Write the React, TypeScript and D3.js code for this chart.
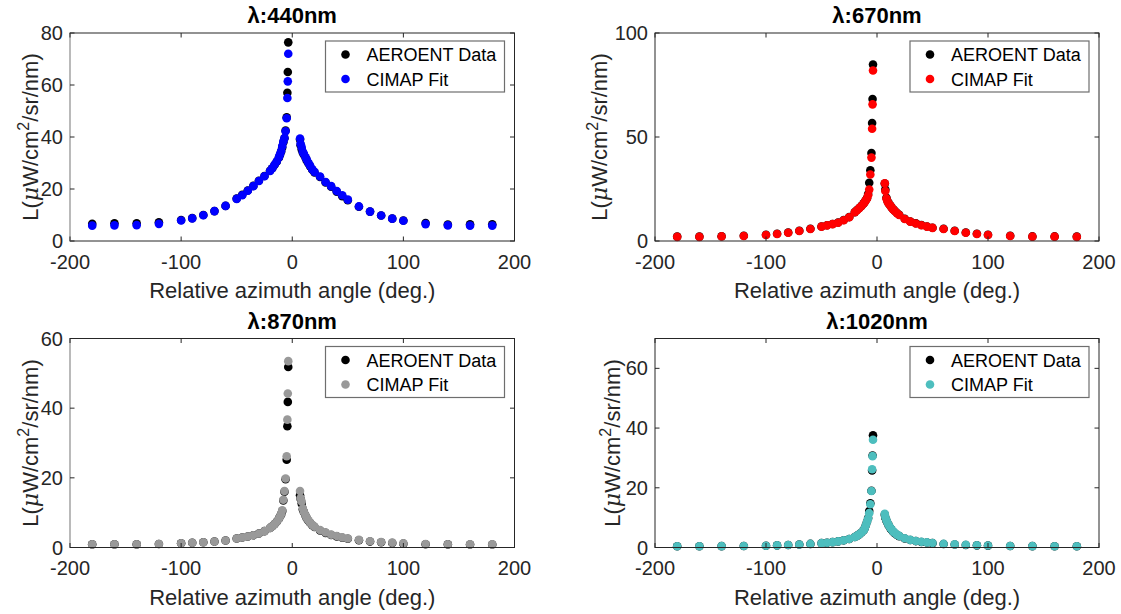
import React from 'react';
import * as d3 from 'd3';

// Relative azimuth angles (deg.) shared by all four wavelengths
const angles = [
  -180, -160, -140, -120, -100, -90, -80, -70, -60, -50,
  -45, -40, -35, -30, -25, -20, -18, -16, -14, -12,
  -11, -10, -9, -8, -7, -6, -5, -4.4, -4, -3.6,
  7, 7.5, 8.5, 9.5, 10.5, 12, 13, 14.5, 16, 18,
  20, 25, 30, 35, 40, 45, 50, 60, 70, 80,
  90, 100, 120, 140, 160, 180,
];

const xTicks = [-200, -100, 0, 100, 200];

// 440 nm
const aero440 = [
  6.6, 6.8, 6.8, 7.2, 8.1, 8.8, 10.0, 11.5, 13.5, 16.3,
  17.8, 19.4, 21.2, 23.2, 25.0, 27.0, 28.0, 29.2, 30.5, 32.0,
  33.2, 34.4, 36.0, 38.0, 39.5, 42.5, 47.6, 57.0, 65.0, 76.4,
  39.0, 36.8, 35.2, 34.0, 33.2, 32.0, 31.0, 29.9, 28.8, 27.4,
  26.4, 24.6, 22.5, 20.9, 19.0, 17.2, 15.7, 13.2, 11.3, 9.8,
  8.6, 7.9, 6.9, 6.3, 6.4, 6.4,
];
const fit440 = [
  5.9, 6.0, 6.1, 6.6, 7.9, 8.7, 9.9, 11.5, 13.5, 16.2,
  17.6, 19.3, 21.1, 23.1, 24.9, 26.9, 28.0, 29.3, 30.6, 32.2,
  33.4, 34.6, 36.5, 38.3, 39.6, 42.2, 47.2, 55.0, 61.4, 72.0,
  39.4, 37.4, 36.0, 34.3, 33.5, 32.2, 31.3, 30.1, 29.0, 27.6,
  26.6, 24.8, 22.7, 21.1, 19.2, 17.6, 15.9, 13.3, 11.3, 9.8,
  8.6, 7.8, 6.5, 6.0, 5.9, 5.9,
];

// 670 nm
const aero670 = [
  2.1, 2.1, 2.3, 2.5, 3.0, 3.5, 4.1, 4.9, 5.9, 7.0,
  7.6, 8.2, 8.9, 10.1, 11.5, 13.9, 14.9, 15.9, 16.9, 18.1,
  18.9, 19.7, 20.6, 22.6, 28.0, 34.0, 42.3, 56.7, 68.3, 84.8,
  27.6, 24.8, 20.8, 19.2, 18.1, 17.1, 16.3, 15.3, 14.5, 13.5,
  12.6, 10.7, 9.4, 8.5, 7.7, 7.0, 6.4, 5.9, 4.9, 4.1,
  3.5, 3.0, 2.5, 2.2, 2.2, 2.1,
];
const fit670 = [
  2.0, 2.0, 2.2, 2.4, 2.9, 3.4, 4.0, 4.8, 5.8, 6.9,
  7.5, 8.1, 8.8, 10.0, 11.4, 13.8, 14.8, 15.8, 16.8, 18.0,
  18.8, 19.6, 20.4, 22.0, 24.7, 32.0, 40.1, 54.0, 65.7, 82.0,
  27.8, 24.0, 20.4, 19.0, 18.0, 17.0, 16.2, 15.2, 14.4, 13.4,
  12.5, 10.6, 9.3, 8.4, 7.6, 6.9, 6.3, 5.8, 4.8, 4.0,
  3.4, 2.9, 2.4, 2.1, 2.1, 2.0,
];

// 870 nm
const aero870 = [
  0.9, 0.9, 0.9, 1.0, 1.2, 1.35, 1.5, 1.7, 2.0, 2.6,
  2.85, 3.15, 3.5, 4.0, 4.7, 5.6, 6.1, 6.7, 7.4, 8.3,
  8.9, 9.5, 10.5, 13.5, 16.0, 19.6, 25.2, 34.8, 41.8, 51.8,
  15.0, 14.0, 12.6, 11.0, 10.1, 9.1, 8.4, 7.7, 7.1, 6.4,
  5.9, 4.9, 4.2, 3.6, 3.2, 2.8, 2.5, 2.1, 1.7, 1.5,
  1.3, 1.1, 0.95, 0.9, 0.85, 0.85,
];
const fit870 = [
  0.9, 0.9, 0.9, 1.0, 1.2, 1.35, 1.5, 1.7, 2.0, 2.6,
  2.85, 3.15, 3.5, 4.0, 4.7, 5.6, 6.1, 6.7, 7.4, 8.3,
  8.9, 9.6, 10.7, 13.7, 16.2, 19.8, 26.2, 36.7, 44.2, 53.5,
  16.2, 14.2, 13.2, 11.2, 10.2, 9.2, 8.5, 7.8, 7.2, 6.5,
  6.0, 5.0, 4.3, 3.7, 3.3, 2.9, 2.6, 2.2, 1.8, 1.6,
  1.4, 1.2, 1.0, 0.95, 0.9, 0.9,
];

// 1020 nm
const aero1020 = [
  0.4, 0.4, 0.45, 0.5, 0.6, 0.7, 0.85, 1.0, 1.2, 1.45,
  1.6, 1.8, 2.05, 2.4, 2.85, 3.5, 3.9, 4.4, 5.0, 5.8,
  6.5, 7.5, 8.6, 9.9, 12.2, 14.8, 19.0, 25.8, 30.8, 37.6,
  11.0, 10.0, 9.0, 8.2, 7.4, 6.5, 6.0, 5.3, 4.8, 4.2,
  3.8, 3.0, 2.5, 2.15, 1.85, 1.65, 1.45, 1.15, 1.0, 0.85,
  0.72, 0.62, 0.5, 0.45, 0.4, 0.4,
];
const fit1020 = [
  0.4, 0.4, 0.45, 0.5, 0.6, 0.7, 0.85, 1.0, 1.2, 1.45,
  1.6, 1.8, 2.05, 2.4, 2.85, 3.5, 3.9, 4.4, 5.0, 5.8,
  6.5, 7.5, 8.6, 9.7, 11.5, 14.5, 18.9, 26.2, 30.6, 36.1,
  11.3, 10.2, 9.1, 8.3, 7.5, 6.6, 6.1, 5.4, 4.9, 4.3,
  3.9, 3.1, 2.55, 2.2, 1.9, 1.7, 1.5, 1.2, 1.05, 0.9,
  0.75, 0.65, 0.5, 0.45, 0.4, 0.4,
];

const titles = ['λ:440nm', 'λ:670nm', 'λ:870nm', 'λ:1020nm'];
const yMaxes = [80, 100, 60, 70];
const yTickSets = [[0, 20, 40, 60, 80], [0, 50, 100], [0, 20, 40, 60], [0, 20, 40, 60]];
const fitColors = ['#0000FF', '#FF0000', '#999999', '#4DBEBE'];
const aeroSeries = [aero440, aero670, aero870, aero1020];
const fitSeries = [fit440, fit670, fit870, fit1020];
const legendLabels = ['AEROENT Data', 'CIMAP Fit'];

const boxes = [
  { left: 70, top: 33, width: 444.5, height: 208, ylab: 32, grayLeft: true },
  { left: 655, top: 33, width: 444, height: 208, ylab: 48, grayLeft: false },
  { left: 70, top: 338.5, width: 444.5, height: 209, ylab: 32, grayLeft: true },
  { left: 655, top: 338.5, width: 444, height: 209, ylab: 35, grayLeft: false },
];

const FONT = '"Liberation Sans", Arial, Helvetica, sans-serif';
const AX = '#262626';
const R = 4.3;
const TL = 4.5;

function Panel({ i }: { i: number }) {
  const b = boxes[i];
  const x = d3.scaleLinear().domain([-200, 200]).range([b.left, b.left + b.width]);
  const y = d3.scaleLinear().domain([0, yMaxes[i]]).range([b.top + b.height, b.top]);
  const bottom = b.top + b.height;
  const right = b.left + b.width;
  const cx = b.left + b.width / 2;
  const cy = b.top + b.height / 2;
  const lgW = 179, lgH = 51;
  const lgX = right - 10 - lgW;
  const lgY = b.top + 8;
  const aero = aeroSeries[i];
  const fit = fitSeries[i];
  return (
    <g>
      <text x={cx} y={b.top - 10} textAnchor="middle" fontFamily={FONT} fontSize={22} fontWeight="bold" fill="#000">
        {titles[i]}
      </text>
      <rect x={b.left} y={b.top} width={b.width} height={b.height} fill="#fff" stroke="none" />
      {angles.map((a, k) => (
        <circle key={'a' + k} cx={x(a)} cy={y(aero[k])} r={R} fill="#000" />
      ))}
      {angles.map((a, k) => (
        <circle key={'f' + k} cx={x(a)} cy={y(fit[k])} r={R} fill={fitColors[i]} />
      ))}
      <rect x={b.left} y={b.top} width={b.width} height={b.height} fill="none" stroke={AX} strokeWidth={1} />
      {b.grayLeft && (
        <line x1={b.left} x2={b.left} y1={b.top + 0.5} y2={bottom} stroke="#c4c4c4" strokeWidth={1.6} />
      )}
      {xTicks.map((t) => (
        <g key={'xt' + t}>
          <line x1={x(t)} x2={x(t)} y1={bottom} y2={bottom - TL} stroke={AX} />
          <line x1={x(t)} x2={x(t)} y1={b.top} y2={b.top + TL} stroke={AX} />
          <text x={x(t)} y={bottom + 27.5} textAnchor="middle" fontFamily={FONT} fontSize={20} fill={AX}>
            {t}
          </text>
        </g>
      ))}
      {yTickSets[i].map((t) => (
        <g key={'yt' + t}>
          <line x1={b.left} x2={b.left + TL} y1={y(t)} y2={y(t)} stroke={AX} />
          <line x1={right} x2={right - TL} y1={y(t)} y2={y(t)} stroke={AX} />
          <text x={b.left - 7} y={y(t) + 7} textAnchor="end" fontFamily={FONT} fontSize={20} fill={AX}>
            {t}
          </text>
        </g>
      ))}
      <text x={cx} y={bottom + 57} textAnchor="middle" fontFamily={FONT} fontSize={22} fill={AX}>
        Relative azimuth angle (deg.)
      </text>
      <text
        transform={`translate(${b.left - b.ylab},${cy}) rotate(-90)`}
        textAnchor="middle"
        fontFamily={FONT}
        fontSize={22}
        fill={AX}
      >
        L(<tspan fontFamily='"DejaVu Serif", "Liberation Serif", serif' fontStyle="italic">μ</tspan>W/cm
        <tspan dy={-9} fontSize={16}>2</tspan>
        <tspan dy={9}>/sr/nm)</tspan>
      </text>
      <rect x={lgX} y={lgY} width={lgW} height={lgH} fill="#fff" stroke="#6e6e6e" strokeWidth={1.2} />
      {[0, 1].map((r) => (
        <g key={'lg' + r}>
          <circle cx={lgX + 20} cy={lgY + 13.5 + r * 24.5} r={R} fill={r === 0 ? '#000' : fitColors[i]} />
          <text x={lgX + 41} y={lgY + 13.5 + r * 24.5 + 6.5} fontFamily={FONT} fontSize={18} fill="#000">
            {legendLabels[r]}
          </text>
        </g>
      ))}
    </g>
  );
}

export default function App() {
  return (
    <svg
      width={1121}
      height={614}
      style={{ position: 'absolute', left: 0, top: 0, background: '#fff' }}
    >
      <rect x={0} y={0} width={1121} height={614} fill="#fff" />
      {[0, 1, 2, 3].map((i) => (
        <Panel key={i} i={i} />
      ))}
    </svg>
  );
}
